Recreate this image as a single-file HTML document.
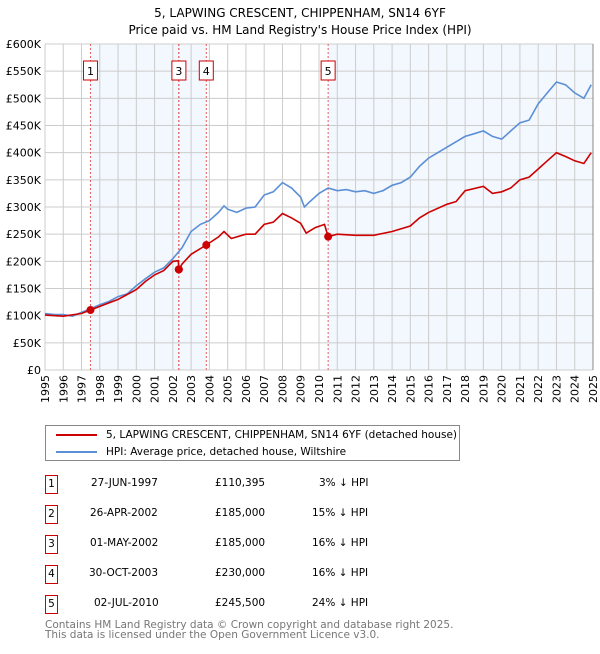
<!DOCTYPE html>
<html><head><meta charset="utf-8"><style>
body{margin:0;background:#fff;font-family:"DejaVu Sans","Liberation Sans",sans-serif;}
svg text{font-family:"DejaVu Sans","Liberation Sans",sans-serif;}
#tbl span{white-space:nowrap;}
</style></head><body>
<svg id="c" width="600" height="650" xmlns="http://www.w3.org/2000/svg"></svg>
<script>
const hpiYears=[1995,1995.5,1996,1996.5,1997,1997.5,1998,1998.5,1999,1999.5,2000,2000.5,2001,2001.5,2002,2002.5,2003,2003.5,2004,2004.5,2004.8,2005,2005.5,2006,2006.5,2007,2007.5,2008,2008.5,2009,2009.2,2009.5,2010,2010.5,2011,2011.5,2012,2012.5,2013,2013.5,2014,2014.5,2015,2015.5,2016,2016.5,2017,2017.5,2018,2018.5,2019,2019.5,2020,2020.5,2021,2021.5,2022,2022.5,2023,2023.5,2024,2024.5,2024.9];
const hpiValues=[104,102,102,99,106,113,120,126,135,140,155,168,180,188,205,225,255,268,275,290,302,296,290,298,300,322,328,345,335,318,300,310,325,335,330,332,328,330,325,330,340,345,355,375,390,400,410,420,430,435,440,430,425,440,455,460,490,510,530,525,510,500,525];
const ppYears=[1995,1996,1997,1997.49,1998,1999,2000,2000.5,2001,2001.5,2002,2002.3,2002.33,2002.5,2003,2003.83,2004.5,2004.8,2005.2,2006,2006.5,2007,2007.5,2008,2008.5,2009,2009.3,2009.8,2010.3,2010.5,2011,2012,2013,2014,2015,2015.5,2016,2017,2017.5,2018,2019,2019.5,2020,2020.5,2021,2021.5,2022,2022.5,2023,2023.5,2024,2024.5,2024.9];
const ppValues=[101,99,104,110.4,117,130,148,163,175,183,200,201,185,195,213,230,245,255,242,250,250,268,272,288,280,270,252,262,268,245.5,250,248,248,255,265,280,290,305,310,330,338,325,328,335,350,355,370,385,400,393,385,380,400];
const saleLabels=["1","2","3","4","5"];
const saleYears=[1997.49,2002.32,2002.33,2003.83,2010.5];
const saleValues=[110.395,185,185,230,245.5];
const yTicks=[0,50,100,150,200,250,300,350,400,450,500,550,600];
const yTickLabels=["£0","£50K","£100K","£150K","£200K","£250K","£300K","£350K","£400K","£450K","£500K","£550K","£600K"];
const xTicks=[1995,1996,1997,1998,1999,2000,2001,2002,2003,2004,2005,2006,2007,2008,2009,2010,2011,2012,2013,2014,2015,2016,2017,2018,2019,2020,2021,2022,2023,2024,2025];

const X0=45,X1=593,Y0=370,Y1=44;
const xs=v=>X0+(v-1995)/30*(X1-X0);
const ys=v=>Y0-v/600*(Y0-Y1);
const svg=document.getElementById('c');
const NS='http://www.w3.org/2000/svg';
function mk(t,a,p){const e=document.createElementNS(NS,t);for(const k in a)e.setAttribute(k,a[k]);(p||svg).appendChild(e);return e;}

let t=mk('text',{x:300,y:17,'text-anchor':'middle','font-size':12});t.textContent='5, LAPWING CRESCENT, CHIPPENHAM, SN14 6YF';

t=mk('text',{x:300,y:34,'text-anchor':'middle','font-size':12});t.textContent="Price paid vs. HM Land Registry's House Price Index (HPI)";


let r=mk('rect',{x:xs(saleYears[0]),y:Y1,width:xs(saleYears[3])-xs(saleYears[0]),height:Y0-Y1,fill:'#eef3fd',opacity:0.7});

r=mk('rect',{x:xs(saleYears[4]),y:Y1,width:X1-xs(saleYears[4]),height:Y0-Y1,fill:'#eef3fd',opacity:0.7});


yTicks.forEach((v,i)=>{
 const l=mk('line',{x1:X0,x2:X1,y1:ys(v),y2:ys(v),stroke:'#cccccc','stroke-width':1});
 
 const tx=mk('text',{x:X0-4,y:ys(v)+4,'text-anchor':'end','font-size':11});tx.textContent=yTickLabels[i];
 
});
xTicks.forEach(v=>{
 const l=mk('line',{x1:xs(v),x2:xs(v),y1:Y1,y2:Y0,stroke:'#cccccc','stroke-width':1});
 
 const tx=mk('text',{x:0,y:0,'text-anchor':'end','font-size':11,transform:`translate(${xs(v)+4},${Y0+5}) rotate(-90)`});tx.textContent=v;
 
});
const ax=mk('line',{x1:X1,x2:X1,y1:Y1,y2:Y0,stroke:'#888','stroke-width':1});


saleYears.forEach((v,i)=>{
 const l=mk('line',{x1:xs(v),x2:xs(v),y1:Y1,y2:Y0,stroke:'#e06060','stroke-width':1,'stroke-dasharray':'2,2'});
 
});

function path(xa,va,col,name){
 const d=xa.map((x,i)=>(i?'L':'M')+xs(x).toFixed(1)+','+ys(va[i]).toFixed(1)).join('');
 const p=mk('path',{d:d,fill:'none',stroke:col,'stroke-width':1.6});
 
}
path(hpiYears,hpiValues,'#5b8fd6','hpi-line');
path(ppYears,ppValues,'#cc0000','price-paid-line');

saleYears.forEach((v,i)=>{
 const c=mk('circle',{cx:xs(v),cy:ys(saleValues[i]),r:4,fill:'#cc0000'});
 
});
[0,1,2,3,4].forEach(i=>{
 if(i===1)return;
 const g=mk('g',{});
 
 mk('rect',{x:xs(saleYears[i])-7,y:61,width:14,height:19,fill:'#fff',stroke:'#cc0000','stroke-width':1},g);
 const tx=mk('text',{x:xs(saleYears[i]),y:75,'text-anchor':'middle','font-size':11},g);tx.textContent=saleLabels[i];
});
</script>
<div style="position:absolute;left:45px;top:425px;width:415px;height:36px;border:1px solid #888;box-sizing:border-box;font-size:10.5px;">
 <div style="position:absolute;left:10px;top:3px;white-space:nowrap;"><span style="display:inline-block;width:41px;height:2px;background:#cc0000;vertical-align:middle;margin-right:9px;"></span>5, LAPWING CRESCENT, CHIPPENHAM, SN14 6YF (detached house)</div>
 <div style="position:absolute;left:10px;top:20px;white-space:nowrap;"><span style="display:inline-block;width:41px;height:2px;background:#5b8fd6;vertical-align:middle;margin-right:9px;"></span>HPI: Average price, detached house, Wiltshire</div>
</div>
<div id="tbl" style="position:absolute;left:0;top:0;font-size:10.5px;">
 <div><span style="position:absolute;left:45px;top:475px;width:13px;height:19px;border:1px solid #cc0000;text-align:center;line-height:17px;box-sizing:border-box;">1</span><span style="position:absolute;left:91px;top:477px;">27-JUN-1997</span><span style="position:absolute;left:215px;top:477px;">£110,395</span><span style="position:absolute;left:319px;top:477px;">3% ↓ HPI</span></div>
 <div><span style="position:absolute;left:45px;top:505px;width:13px;height:19px;border:1px solid #cc0000;text-align:center;line-height:17px;box-sizing:border-box;">2</span><span style="position:absolute;left:90px;top:507px;">26-APR-2002</span><span style="position:absolute;left:215px;top:507px;">£185,000</span><span style="position:absolute;left:312px;top:507px;">15% ↓ HPI</span></div>
 <div><span style="position:absolute;left:45px;top:535px;width:13px;height:19px;border:1px solid #cc0000;text-align:center;line-height:17px;box-sizing:border-box;">3</span><span style="position:absolute;left:90px;top:537px;">01-MAY-2002</span><span style="position:absolute;left:215px;top:537px;">£185,000</span><span style="position:absolute;left:312px;top:537px;">16% ↓ HPI</span></div>
 <div><span style="position:absolute;left:45px;top:565px;width:13px;height:19px;border:1px solid #cc0000;text-align:center;line-height:17px;box-sizing:border-box;">4</span><span style="position:absolute;left:89px;top:567px;">30-OCT-2003</span><span style="position:absolute;left:215px;top:567px;">£230,000</span><span style="position:absolute;left:312px;top:567px;">16% ↓ HPI</span></div>
 <div><span style="position:absolute;left:45px;top:595px;width:13px;height:19px;border:1px solid #cc0000;text-align:center;line-height:17px;box-sizing:border-box;">5</span><span style="position:absolute;left:94px;top:597px;">02-JUL-2010</span><span style="position:absolute;left:215px;top:597px;">£245,500</span><span style="position:absolute;left:312px;top:597px;">24% ↓ HPI</span></div>
</div>
<div style="position:absolute;left:45px;top:620px;font-size:10.5px;color:#777;line-height:10px;white-space:nowrap;">Contains HM Land Registry data © Crown copyright and database right 2025.<br>This data is licensed under the Open Government Licence v3.0.</div>
</body></html>
